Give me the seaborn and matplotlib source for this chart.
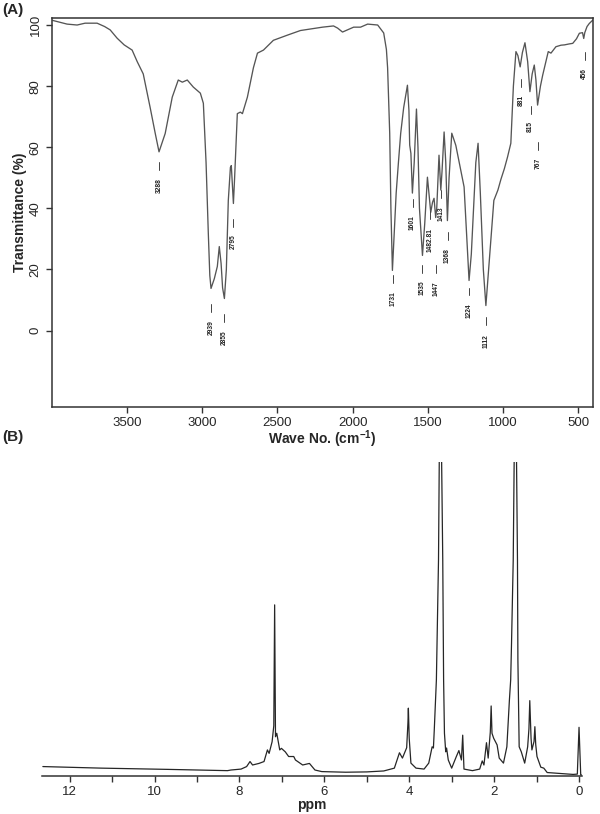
import numpy as np
import matplotlib
matplotlib.use("Agg")
import matplotlib.pyplot as plt
import seaborn as sns

# FTIR spectrum (wave number, %T)
ir_wn = [3995, 3900, 3833, 3780, 3700, 3650, 3613, 3567, 3520, 3467, 3433, 3393,
         3347, 3313, 3288, 3247, 3200, 3160, 3133, 3100, 3060, 3013, 2993, 2975,
         2967, 2960, 2950, 2942, 2920, 2900, 2887, 2875, 2865, 2853, 2840, 2827,
         2813, 2807, 2800, 2793, 2785, 2767, 2747, 2733, 2700, 2660, 2633, 2593,
         2527, 2433, 2347, 2200, 2127, 2100, 2067, 2030, 1993, 1947, 1900, 1833,
         1793, 1775, 1767, 1753, 1745, 1735, 1725, 1710, 1695, 1680, 1660, 1635,
         1625, 1620, 1612, 1602, 1590, 1575, 1565, 1555, 1535, 1520, 1502, 1490,
         1480, 1468, 1458, 1447, 1440, 1425, 1413, 1405, 1391, 1380, 1369, 1358,
         1340, 1313, 1280, 1258, 1240, 1225, 1210, 1195, 1180, 1165, 1150, 1130,
         1113, 1095, 1075, 1060, 1033, 1013, 990, 969, 947, 930, 913, 900,
         885, 870, 853, 835, 820, 805, 791, 780, 769, 750, 735, 698,
         680, 647, 613, 590, 560, 535, 510, 491, 470, 462, 455, 440,
         425, 402]
ir_t = [101.5, 100.3, 100.0, 100.6, 100.6, 99.5, 98.4, 95.7, 93.5, 91.8, 88.0, 84.0,
        73.0, 64.5, 58.5, 64.5, 76.4, 82.0, 81.3, 82.0, 79.7, 77.7, 74.4, 55.0,
        42.6, 31.8, 18.0, 13.8, 17.0, 21.0, 27.5, 22.0, 14.0, 10.5, 20.0, 42.6,
        53.4, 54.0, 48.0, 41.6, 50.0, 71.0, 71.5, 71.0, 76.4, 86.0, 90.8, 91.8,
        95.0, 96.7, 98.2, 99.3, 99.7, 99.0, 97.7, 98.5, 99.3, 99.3, 100.3, 100.0,
        97.4, 92.0, 86.0, 64.6, 40.0, 19.7, 30.0, 45.0, 55.0, 64.5, 73.0, 80.3,
        72.0, 60.7, 58.0, 45.0, 55.0, 72.5, 60.0, 40.0, 24.6, 35.0, 50.2, 44.0,
        38.7, 42.0, 43.3, 37.0, 40.0, 57.4, 46.0, 52.0, 65.0, 55.0, 36.0, 50.0,
        64.6, 60.6, 52.5, 47.0, 30.0, 16.4, 25.0, 40.0, 55.0, 61.3, 45.0, 20.0,
        8.2, 20.0, 33.0, 42.6, 46.0, 49.5, 53.0, 56.8, 61.3, 80.0, 91.3, 90.0,
        86.3, 91.0, 94.2, 88.0, 78.2, 84.0, 86.9, 82.0, 73.8, 80.0, 83.6, 91.3,
        90.8, 92.9, 93.4, 93.5, 93.8, 94.0, 95.5, 97.3, 97.5, 95.6, 97.5, 99.5,
        100.5, 101.6]

# peak labels and where the label text sits (in %T)
peak_text = ["3288", "2939", "2855", "2795", "1731", "1601", "1535", "1482.81",
             "1447", "1413", "1368", "1224", "1112", "881", "815", "767", "456"]
peak_label_t = [47.5, 1.0, -2.3, 29.0, 10.5, 35.4, 14.0, 29.5,
                13.8, 38.4, 24.6, 6.5, -3.3, 75.4, 66.7, 54.7, 84.2]

# 1H NMR spectrum, traced (ppm, relative intensity)
nmr_ppm = [12.63, 11.25, 9.67, 8.28, 8.2, 7.96, 7.83, 7.75, 7.69, 7.54, 7.42, 7.34,
           7.30, 7.23, 7.19, 7.17, 7.15, 7.12, 7.05, 7.01, 6.92, 6.84, 6.72, 6.68, 6.51,
           6.35, 6.22, 6.06, 5.5, 5.0, 4.6, 4.35, 4.23, 4.16, 4.06, 4.03, 4.02, 4.00,
           3.96, 3.84,
           3.65, 3.54, 3.46, 3.43, 3.41, 3.36, 3.31, 3.27, 3.21, 3.19, 3.17, 3.14,
           3.12, 3.08, 3.00, 2.89, 2.83, 2.77, 2.74, 2.71, 2.51, 2.34, 2.28, 2.24,
           2.18, 2.14, 2.09, 2.07, 2.05, 2.01, 1.93, 1.88, 1.78, 1.70, 1.64, 1.61, 1.59,
           1.55, 1.50, 1.45, 1.44, 1.41, 1.36, 1.28, 1.21, 1.18, 1.16, 1.13, 1.11,
           1.06, 1.04, 1.02, 0.99,
           0.90, 0.83, 0.75, 0.14, 0.04, 0.0, -0.04, -0.07]
nmr_int = [3.0, 2.5, 2.1, 1.7, 1.9, 2.2, 3.0, 4.6, 3.5, 4.0, 4.6, 8.3,
           7.2, 10.9, 16.0, 54.5, 12.5, 13.6, 8.3, 8.8, 7.7, 6.2, 6.2, 5.1, 3.5,
           4.0, 1.9, 1.4, 1.2, 1.3, 1.6, 2.5, 7.4, 5.7, 9.0, 17.0, 21.6, 12.0,
           4.1, 2.5,
           2.2, 4.1, 9.3, 8.9, 14.6, 30.6, 68.8, 140.0, 68.8, 30.6, 13.6, 7.7,
           8.9, 5.1, 2.5, 6.2, 8.1, 5.1, 13.0, 2.2, 1.7, 2.2, 4.8, 3.5,
           10.6, 5.7, 14.0, 22.3, 13.6, 12.0, 9.9, 5.7, 4.1, 9.3, 24.2, 30.6, 42.3,
           68.8, 140.0, 68.8, 37.0, 9.3, 7.7, 4.1, 9.3, 15.0, 24.0, 12.0, 8.3,
           11.0, 15.7, 10.0, 6.2,
           2.8, 2.5, 1.1, 0.5, 0.6, 15.5, 0.3, 0.3]

sns.set_style("ticks")
plt.rcParams["font.family"] = ["Liberation Sans", "DejaVu Sans"]
plt.rcParams["mathtext.fontset"] = "custom"
plt.rcParams["mathtext.rm"] = "Liberation Sans"
plt.rcParams["mathtext.bf"] = "Liberation Sans:bold"

fig = plt.figure(figsize=(6, 8.14), dpi=100)

# ---- (A) FTIR ----
ax1 = fig.add_axes([0.0867, 0.5, 0.9017, 0.4779])
sns.lineplot(x=ir_wn, y=ir_t, ax=ax1, color="#555555", linewidth=0.95,
             sort=False, estimator=None)
ax1.set_xlim(4000, 400)
ax1.set_ylim(-25, 102.3)
ax1.set_xticks([3500, 3000, 2500, 2000, 1500, 1000, 500])
ax1.set_yticks([0, 20, 40, 60, 80, 100])
ax1.set_yticklabels(["0", "20", "40", "60", "80", "100"], rotation=90, va="center")
ax1.tick_params(axis="both", labelsize=9.5, length=4, width=1, color="#333333")
for sp in ax1.spines.values():
    sp.set_visible(True)
    sp.set_color("#333333")
    sp.set_linewidth(1.1)
ax1.set_xlabel(r"Wave No. (cm$^{\mathbf{-1}}$)", fontsize=10, fontweight="bold", labelpad=-1)
ax1.set_ylabel("Transmittance (%)", fontsize=10, fontweight="bold", labelpad=2)

for txt, ty in zip(peak_text, peak_label_t):
    wn = float(txt)
    half = len(txt) * 0.7
    ax1.text(wn, ty, txt, rotation=90, ha="center", va="center",
             fontsize=4.8, fontweight="bold", color="#222222")
    ax1.plot([wn, wn], [ty + half + 2.2, ty + half + 4.8], color="#444444", lw=0.7)

# ---- (B) 1H NMR ----
ax2 = fig.add_axes([0.07, 0.0467, 0.9, 0.3857])
sns.lineplot(x=nmr_ppm, y=nmr_int, ax=ax2, color="#262626", linewidth=0.9,
             sort=False, estimator=None)
ax2.set_xlim(12.65, -0.07)
ax2.set_ylim(0, 100)
ax2.set_xticks([12, 10, 8, 6, 4, 2, 0])
ax2.set_xticks([11, 9, 7, 5, 3, 1], minor=True)
ax2.set_yticks([])
ax2.tick_params(axis="x", which="both", labelsize=9.5, length=4, width=1, color="#333333")
for side in ["left", "right", "top"]:
    ax2.spines[side].set_visible(False)
ax2.spines["bottom"].set_color("#333333")
ax2.spines["bottom"].set_linewidth(1.1)
ax2.set_xlabel("ppm", fontsize=10, fontweight="bold", labelpad=0)
ax2.set_ylabel("")

fig.text(0.003, 0.988, "(A)", fontsize=11, fontweight="bold", va="center")
fig.text(0.003, 0.463, "(B)", fontsize=11, fontweight="bold", va="center")

fig.savefig("out.png", dpi=100)
